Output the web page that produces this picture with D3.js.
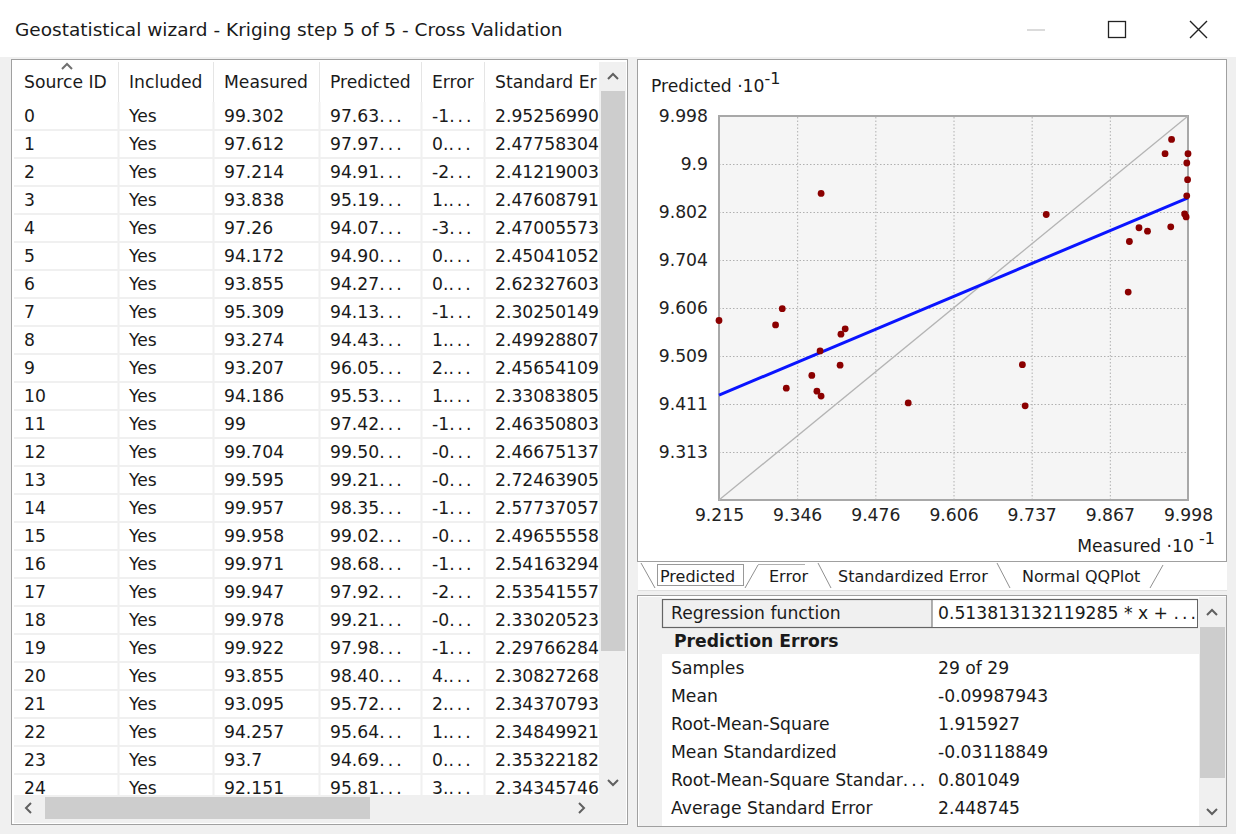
<!DOCTYPE html>
<html>
<head>
<meta charset="utf-8">
<script src="https://cdn.jsdelivr.net/npm/d3@7"></script>
<style>
  html, body { margin: 0; padding: 0; background: #f0f0f0; }
  svg { display: block; font-family: "DejaVu Sans", "Noto Sans", sans-serif; }
</style>
</head>
<body>
<svg id="root" width="1236" height="834"></svg>
<script>
// ---------------- data ----------------
const titleText = "Geostatistical wizard - Kriging step 5 of 5 - Cross Validation";
const columns = ["Source ID", "Included", "Measured", "Predicted", "Error", "Standard Er"];
const sourceIds = d3.range(0, 29);
const included = sourceIds.map(() => "Yes");
const measured = [99.302, 97.612, 97.214, 93.838, 97.26, 94.172, 93.855, 95.309, 93.274, 93.207,
                  94.186, 99, 99.704, 99.595, 99.957, 99.958, 99.971, 99.947, 99.978, 99.922,
                  93.855, 93.095, 94.257, 93.7, 92.151, 99.16, 99.69, 98.98, 93.785];
const predicted = [97.63, 97.97, 94.91, 95.19, 94.07, 94.90, 94.27, 94.13, 94.43, 96.05,
                   95.53, 97.42, 99.50, 99.21, 98.35, 99.02, 98.68, 97.92, 99.21, 97.98,
                   98.40, 95.72, 95.64, 94.69, 95.81, 97.70, 97.72, 96.39, 94.37];
const standardError = ["2.95256990", "2.47758304", "2.41219003", "2.47608791", "2.47005573",
                       "2.45041052", "2.62327603", "2.30250149", "2.49928807", "2.45654109",
                       "2.33083805", "2.46350803", "2.46675137", "2.72463905", "2.57737057",
                       "2.49655558", "2.54163294", "2.53541557", "2.33020523", "2.29766284",
                       "2.30827268", "2.34370793", "2.34849921", "2.35322182", "2.34345746"];
const visibleRows = 25;
const xTickLabels = ["9.215", "9.346", "9.476", "9.606", "9.737", "9.867", "9.998"];
const yTickLabels = ["9.313", "9.411", "9.509", "9.606", "9.704", "9.802", "9.9", "9.998"];
const axisMin = 9.2151, axisMax = 9.9978;
const regressionSlope = 0.513813132119285;
const regressionIntercept = 46.94;
const tabs = ["Predicted", "Error", "Standardized Error", "Normal QQPlot"];
const statLabels = ["Samples", "Mean", "Root-Mean-Square", "Mean Standardized",
                    "Root-Mean-Square Standar", "Average Standard Error"];
const statValues = ["29 of 29", "-0.09987943", "1.915927", "-0.03118849", "0.801049", "2.448745"];
const regressionText = "0.513813132119285 * x + ";

// ---------------- helpers ----------------
const svg = d3.select("#root");
const FONT = 17.2;
const TEXT = "#1a1a1a";
function addEllipsis(sel) {
  sel.append("tspan").attr("letter-spacing", 3).text("...");
}
function chevron(g, cx, cy, up, color) {
  const d = up ? `M${cx-5},${cy+3} L${cx},${cy-2} L${cx+5},${cy+3}` : `M${cx-5},${cy-2} L${cx},${cy+3} L${cx+5},${cy-2}`;
  g.append("path").attr("d", d).attr("fill", "none").attr("stroke", color || "#606060").attr("stroke-width", 2);
}
function chevronH(g, cx, cy, right) {
  const d = right ? `M${cx-2},${cy-5} L${cx+3},${cy} L${cx-2},${cy+5}` : `M${cx+2},${cy-5} L${cx-3},${cy} L${cx+2},${cy+5}`;
  g.append("path").attr("d", d).attr("fill", "none").attr("stroke", "#606060").attr("stroke-width", 2);
}

// ---------------- title bar ----------------
svg.append("rect").attr("x", 0).attr("y", 0).attr("width", 1236).attr("height", 57).attr("fill", "#ffffff");
svg.append("text").attr("x", 15).attr("y", 36).attr("font-size", 18.5).attr("fill", TEXT).text(titleText);
svg.append("line").attr("x1", 1027).attr("x2", 1045).attr("y1", 30).attr("y2", 30).attr("stroke", "#c4c4c4").attr("stroke-width", 1.2);
svg.append("rect").attr("x", 1108.5).attr("y", 21.5).attr("width", 17).attr("height", 16).attr("fill", "none").attr("stroke", "#222").attr("stroke-width", 1.3);
svg.append("path").attr("d", "M1190,21 L1207,38 M1207,21 L1190,38").attr("stroke", "#222").attr("stroke-width", 1.4);

// ---------------- table panel ----------------
const tbl = svg.append("g");
tbl.append("rect").attr("x", 11.5).attr("y", 59.5).attr("width", 616).attr("height", 765).attr("fill", "#ffffff").attr("stroke", "#a0a0a0");
const colX = [14, 118, 213, 319, 421, 484, 599];
const colTextX = [24, 129, 224, 330, 432, 495];
// header
const headerG = tbl.append("g");
colX.slice(1, 6).forEach(x => headerG.append("line").attr("x1", x + 0.5).attr("x2", x + 0.5).attr("y1", 62).attr("y2", 102).attr("stroke", "#e5e5e5"));
headerG.selectAll("text").data(columns).join("text")
  .attr("x", (d, i) => colTextX[i]).attr("y", 88).attr("font-size", FONT).attr("fill", TEXT).text(d => d);
chevron(headerG, 67, 66, true, "#707070");
// rows
const rowG = tbl.append("g");
const clip = svg.append("defs").append("clipPath").attr("id", "rowsClip");
clip.append("rect").attr("x", 14).attr("y", 102).attr("width", 585).attr("height", 693);
const rowsArea = rowG.append("g").attr("clip-path", "url(#rowsClip)");
const rowsData = d3.range(visibleRows).map(i => ({
  id: String(sourceIds[i]),
  inc: included[i],
  meas: String(measured[i]),
  pred: predicted[i].toFixed(2),
  err: (predicted[i] - measured[i]).toFixed(2).slice(0, 2),
  se: standardError[i]
}));
const rowH = 28, row0 = 116;
rowsData.forEach((r, i) => {
  rowsArea.append("line").attr("x1", 14).attr("x2", 599).attr("y1", row0 + 14 + i * rowH).attr("y2", row0 + 14 + i * rowH).attr("stroke", "#f0f0f0").attr("stroke-width", 2);
});
colX.slice(1, 6).forEach(x => rowsArea.append("line").attr("x1", x + 0.5).attr("x2", x + 0.5).attr("y1", 102).attr("y2", 795).attr("stroke", "#f0f0f0").attr("stroke-width", 2));
const rowGroups = rowsArea.selectAll("g.row").data(rowsData).join("g").attr("class", "row")
  .attr("transform", (d, i) => `translate(0,${row0 + i * rowH})`);
["id", "inc", "meas", "pred", "err", "se"].forEach((k, ci) => {
  const t = rowGroups.append("text").attr("x", colTextX[ci]).attr("y", 6).attr("font-size", FONT).attr("fill", TEXT);
  t.append("tspan").text(d => d[k]);
  if (k === "pred" || k === "err") addEllipsis(t);
});
// vertical scrollbar
tbl.append("rect").attr("x", 599).attr("y", 62).attr("width", 27).attr("height", 733).attr("fill", "#f0f0f0");
tbl.append("rect").attr("x", 601).attr("y", 91).attr("width", 24).attr("height", 560).attr("fill", "#cdcdcd");
chevron(tbl, 613, 76, true);
chevron(tbl, 613, 782, false);
// horizontal scrollbar
tbl.append("rect").attr("x", 14).attr("y", 795).attr("width", 612).attr("height", 28).attr("fill", "#f0f0f0");
tbl.append("rect").attr("x", 45).attr("y", 797).attr("width", 325).attr("height", 22).attr("fill", "#cdcdcd");
chevronH(tbl, 29, 808, false);
chevronH(tbl, 581, 808, true);

// ---------------- chart panel ----------------
const chartG = svg.append("g");
chartG.append("rect").attr("x", 637.5).attr("y", 59.5).attr("width", 589).attr("height", 502).attr("fill", "#ffffff").attr("stroke", "#a0a0a0");
const x = d3.scaleLinear().domain([axisMin, axisMax]).range([719, 1188]);
const y = d3.scaleLinear().domain([axisMin, axisMax]).range([500, 116]);
const xTicks = d3.range(xTickLabels.length).map(i => axisMin + i * (axisMax - axisMin) / (xTickLabels.length - 1));
const yTicks = d3.range(1, yTickLabels.length + 1).map(i => axisMin + i * (axisMax - axisMin) / yTickLabels.length);
chartG.append("rect").attr("x", x.range()[0]).attr("y", y.range()[1]).attr("width", x.range()[1] - x.range()[0]).attr("height", y.range()[0] - y.range()[1]).attr("fill", "#f5f5f5");
// grids
const gx = chartG.append("g").attr("transform", `translate(0,${y.range()[0]})`)
  .call(d3.axisBottom(x).tickValues(xTicks.slice(1, -1)).tickSize(-(y.range()[0] - y.range()[1])).tickFormat(""));
gx.select(".domain").remove();
gx.selectAll("line").attr("stroke", "#b0b0b0").attr("stroke-dasharray", "1.5,2");
const gy = chartG.append("g").attr("transform", `translate(${x.range()[0]},0)`)
  .call(d3.axisLeft(y).tickValues(yTicks.slice(0, -1)).tickSize(-(x.range()[1] - x.range()[0])).tickFormat(""));
gy.select(".domain").remove();
gy.selectAll("line").attr("stroke", "#b0b0b0").attr("stroke-dasharray", "1.5,2");
// border
chartG.append("rect").attr("x", x.range()[0]).attr("y", y.range()[1]).attr("width", x.range()[1] - x.range()[0]).attr("height", y.range()[0] - y.range()[1]).attr("fill", "none").attr("stroke", "#a8a8a8").attr("stroke-width", 2);
// axes labels
const ax = chartG.append("g").attr("transform", `translate(0,${y.range()[0]})`)
  .call(d3.axisBottom(x).tickValues(xTicks).tickSize(0).tickPadding(9).tickFormat((d, i) => xTickLabels[i]));
ax.select(".domain").remove();
ax.selectAll("text").attr("font-size", FONT).attr("fill", "#222").attr("font-family", "DejaVu Sans, sans-serif");
const ay = chartG.append("g").attr("transform", `translate(${x.range()[0]},0)`)
  .call(d3.axisLeft(y).tickValues(yTicks).tickSize(0).tickPadding(11).tickFormat((d, i) => yTickLabels[i]));
ay.select(".domain").remove();
ay.selectAll("text").attr("font-size", FONT).attr("fill", "#222").attr("font-family", "DejaVu Sans, sans-serif");
// 1:1 line
chartG.append("line").attr("x1", x(axisMin)).attr("y1", y(axisMin)).attr("x2", x(axisMax)).attr("y2", y(axisMax)).attr("stroke", "#b4b4b4").attr("stroke-width", 1.3);
// regression line
const reg = v => (regressionSlope * v * 10 + regressionIntercept) / 10;
chartG.append("line").attr("x1", x(axisMin)).attr("y1", y(reg(axisMin))).attr("x2", x(axisMax)).attr("y2", y(reg(axisMax))).attr("stroke", "#0a14ff").attr("stroke-width", 3);
// points
chartG.append("g").selectAll("circle").data(sourceIds).join("circle")
  .attr("cx", i => x(measured[i] / 10)).attr("cy", i => y(predicted[i] / 10)).attr("r", 3.4).attr("fill", "#8b0000");
// axis titles
const yt = chartG.append("text").attr("x", 651).attr("y", 92).attr("font-size", FONT).attr("fill", TEXT);
yt.append("tspan").text("Predicted \u00b710");
yt.append("tspan").attr("dy", -8).attr("font-size", 16).text("-1");
const xt = chartG.append("text").attr("x", 1215).attr("y", 552).attr("font-size", FONT).attr("fill", TEXT).attr("text-anchor", "end");
xt.append("tspan").text("Measured \u00b710");
xt.append("tspan").attr("dy", -8).attr("font-size", 16).text(" -1");

// ---------------- tabs ----------------
const tabG = svg.append("g");
tabG.append("rect").attr("x", 638).attr("y", 561).attr("width", 589).attr("height", 30).attr("fill", "#ffffff");
tabG.append("line").attr("x1", 638).attr("x2", 1227).attr("y1", 561.5).attr("y2", 561.5).attr("stroke", "#a0a0a0");
tabG.append("line").attr("x1", 638).attr("x2", 1227).attr("y1", 590.5).attr("y2", 590.5).attr("stroke", "#e0e0e0");
const tabTextX = [660, 769, 838, 1022];
tabG.selectAll("text").data(tabs).join("text").attr("x", (d, i) => tabTextX[i]).attr("y", 582)
  .attr("font-size", 16).attr("fill", TEXT).text(d => d);
tabG.append("rect").attr("x", 657.5).attr("y", 564.5).attr("width", 86).attr("height", 21).attr("fill", "none").attr("stroke", "#333").attr("stroke-dasharray", "1,1");
const slashes = [[641, 563, 655, 588], [745, 588, 758, 565], [818, 563, 831, 588], [997, 563, 1010, 588], [1150, 588, 1163, 565]];
slashes.forEach(s => tabG.append("line").attr("x1", s[0]).attr("y1", s[1]).attr("x2", s[2]).attr("y2", s[3]).attr("stroke", "#909090"));
tabG.append("line").attr("x1", 758).attr("x2", 805).attr("y1", 564.5).attr("y2", 564.5).attr("stroke", "#b0b0b0");

// ---------------- property grid ----------------
const pg = svg.append("g");
pg.append("rect").attr("x", 637.5).attr("y", 595.5).attr("width", 589).attr("height", 231).attr("fill", "#ffffff").attr("stroke", "#a0a0a0");
pg.append("rect").attr("x", 639).attr("y", 597).attr("width", 23).attr("height", 229).attr("fill", "#f0f0f0");
pg.append("rect").attr("x", 639).attr("y", 628).attr("width", 560).attr("height", 26).attr("fill", "#f0f0f0");
pg.append("rect").attr("x", 662.5).attr("y", 599.5).attr("width", 535).attr("height", 28).attr("fill", "#f0f0f0").attr("stroke", "#646464").attr("stroke-width", 1.2);
pg.append("rect").attr("x", 932).attr("y", 600.5).attr("width", 265).attr("height", 26.5).attr("fill", "#ffffff");
pg.append("line").attr("x1", 932).attr("x2", 932).attr("y1", 600).attr("y2", 627).attr("stroke", "#646464");
pg.append("text").attr("x", 671).attr("y", 619).attr("font-size", FONT).attr("fill", TEXT).text("Regression function");
const rt = pg.append("text").attr("x", 938).attr("y", 619).attr("font-size", FONT).attr("fill", TEXT);
rt.append("tspan").text(regressionText);
addEllipsis(rt);
pg.append("text").attr("x", 674).attr("y", 647).attr("font-size", FONT).attr("font-weight", "bold").attr("fill", TEXT).text("Prediction Errors");
pg.selectAll("text.lab").data(statLabels).join("text").attr("class", "lab")
  .attr("x", 671).attr("y", (d, i) => 674 + i * 28).attr("font-size", FONT).attr("fill", TEXT)
  .each(function (d, i) {
    d3.select(this).append("tspan").text(d);
    if (i === 4) addEllipsis(d3.select(this));
  });
pg.selectAll("text.val").data(statValues).join("text").attr("class", "val")
  .attr("x", 938).attr("y", (d, i) => 674 + i * 28).attr("font-size", FONT).attr("fill", TEXT).text(d => d);
pg.append("rect").attr("x", 1199).attr("y", 597).attr("width", 27).attr("height", 229).attr("fill", "#f0f0f0");
pg.append("rect").attr("x", 1200).attr("y", 627).attr("width", 25).attr("height", 151).attr("fill", "#cdcdcd");
chevron(pg, 1212, 612, true);
chevron(pg, 1212, 811, false);
</script>
</body>
</html>
